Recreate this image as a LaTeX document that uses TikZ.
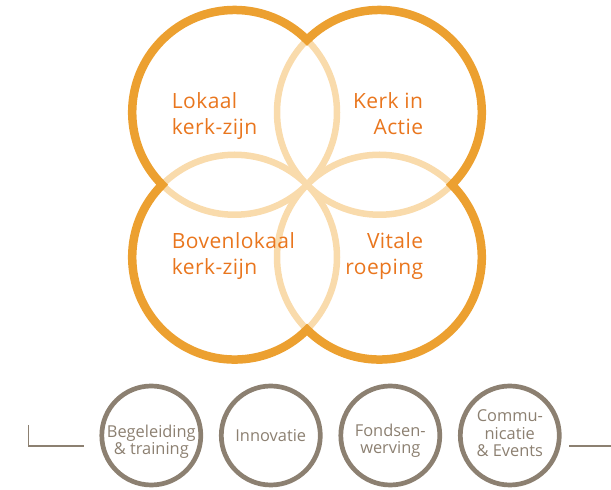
\documentclass[tikz,border=0pt]{standalone}
\usepackage{xcolor}
\usepackage{tikz}
\usetikzlibrary{calc}
\usepackage{fontspec}
\setmainfont{Open Sans}
\newfontfamily\fieldfont{Open Sans}[LetterSpace=2]
\newfontfamily\taskfont{Open Sans}

\definecolor{ringorange}{HTML}{ECA030}
\definecolor{lensorange}{HTML}{F9DBAC}
\definecolor{textorange}{HTML}{E9761E}
\definecolor{taupe}{HTML}{8C8071}

\begin{document}
\begin{tikzpicture}[x=1pt,y=1pt]
        % Define the styles for the rings and the labels
        \tikzstyle{outer ring}=[draw=ringorange, line width=8.5pt, line join=miter];
        \tikzstyle{lens line}=[draw=lensorange, line width=6.5pt];
        \tikzstyle{big label}=[text=textorange, inner sep=0pt, font=\fieldfont\fontsize{21}{26}\selectfont];
        \tikzstyle{task ring}=[circle, draw=taupe, line width=4.7pt, minimum size=99pt, inner sep=0pt];
        \tikzstyle{task label}=[text=taupe, align=center, inner sep=0pt, font=\taskfont\fontsize{16.4}{17.5}\selectfont];
        \tikzstyle{base line}=[draw=taupe, line width=1.5pt];

        \useasboundingbox (0,0) rectangle (611,490);

        % Define the point where all four circles meet
        \coordinate (C) at (307,305.25);
        \def\offs{72.4}
        \def\rad{102.4}

        % Centres of the four circles
        \coordinate (TL) at ($(C)+(-\offs,\offs)$);
        \coordinate (TR) at ($(C)+(\offs,\offs)$);
        \coordinate (BL) at ($(C)+(-\offs,-\offs)$);
        \coordinate (BR) at ($(C)+(\offs,-\offs)$);

        % Draw the four circles in the light colour, their inner arcs give the lenses
        \foreach \p in {TL,TR,BL,BR}
            \draw[lens line] (\p) circle (\rad pt);

        % Draw the outline of the union on top
        \draw[outer ring] ($(C)+(0,2*\offs)$) arc (45:225:\rad pt) arc (135:315:\rad pt)
            arc (225:405:\rad pt) arc (-45:135:\rad pt) -- cycle;

        % Labels of the four fields
        \node[big label, anchor=north west, align=left] (lokaal) at (171.7,397.7) {Lokaal\\kerk-zijn};
        \node[big label, anchor=north east, align=right] (actie) at (423.3,397.7) {Kerk in\\Actie};
        \node[big label, anchor=north west, align=left] (bovenlokaal) at (171.7,257.7) {Bovenlokaal\\kerk-zijn};
        \node[big label, anchor=north east, align=right] (roeping) at (423.3,257.7) {Vitale\\roeping};

        % Task circles along the bottom
        \node[task ring] (begeleiding) at (151.3,54.5) {};
        \node[task ring] (innovatie) at (270.8,54.5) {};
        \node[task ring] (fondsen) at (390.3,54.5) {};
        \node[task ring] (communicatie) at (509.8,54.5) {};

        \node[task label] at ([yshift=-6pt]begeleiding.center) {Begeleiding\\\& training};
        \node[task label] at (innovatie.center) {Innovatie};
        \node[task label] at ([yshift=-5pt]fondsen.center) {Fondsen-\\werving};
        \node[task label] at ([yshift=2pt]communicatie.center) {Commu-\\nicatie\\\& Events};

        % The lines at both ends
        \coordinate (leftTop) at (28.3,65);
        \coordinate (leftEnd) at (84.3,44);
        \coordinate (rightStart) at (569.3,44);
        \coordinate (rightEnd) at (611,44);
        \draw[base line] (leftTop) |- (leftEnd);
        \draw[base line] (rightStart) -- (rightEnd);
    \end{tikzpicture}
\end{document}
